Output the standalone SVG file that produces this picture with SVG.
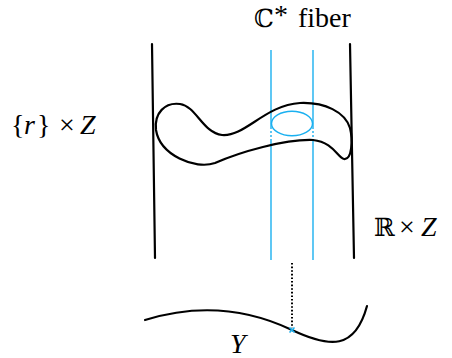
<svg xmlns="http://www.w3.org/2000/svg" width="452" height="358" viewBox="0 0 452 358">
<style>
.blk{fill:none;stroke:#000;stroke-width:2.2;stroke-linecap:round;stroke-linejoin:round}
.cy{fill:none;stroke:#1ab0f0;stroke-width:1.4}
.cyd{fill:none;stroke:#1ab0f0;stroke-width:1.4;stroke-dasharray:2 2}
.t{font-family:"Liberation Serif","DejaVu Serif",serif;font-size:28px;fill:#000}
.ds{font-family:"DejaVu Serif","DejaVu Sans",serif;font-size:25px;fill:#000}
.it{font-style:italic}
</style>
<rect width="452" height="358" fill="#fff"/>
<g id="cylinder">
<line class="blk" x1="152" y1="44" x2="155" y2="258"/>
<line class="blk" x1="350" y1="44" x2="354" y2="258"/>
</g>
<g id="fiber">
<line class="cy" x1="271" y1="50" x2="271" y2="127"/>
<line class="cyd" x1="271" y1="127" x2="271" y2="141"/>
<line class="cy" x1="271" y1="141" x2="271" y2="260"/>
<line class="cy" x1="313" y1="50" x2="313" y2="127"/>
<line class="cyd" x1="313" y1="127" x2="313" y2="141"/>
<line class="cy" x1="313" y1="141" x2="313" y2="260"/>
<ellipse class="cy" cx="292" cy="123.5" rx="20.5" ry="12.3" stroke-width="1.6"/>
</g>
<g id="slice">
<path class="blk" d="M 156,130 C 154,113 165,102 180,104 C 196,106 203,133 222,135 C 245,137 265,105 300,103 C 325,102 345,112 350,128 C 353,140 352,160 344,159 C 338,158 333,142 313,140 C 285,139 240,152 215,163 C 195,170 160,155 156,130 Z"/>
</g>
<g id="base">
<path class="blk" d="M 145,320 C 200,303 250,310 292,330 C 330,348 355,350 367,306"/>
</g>
<g id="connectors">
<line x1="292" y1="263" x2="292" y2="328" stroke="#000" stroke-width="2" stroke-dasharray="1.6 2"/>
<path d="M 289.5,327.5 L 294.5,332.5 M 294.5,327.5 L 289.5,332.5" stroke="#1ab0f0" stroke-width="1.6"/>
</g>
<g id="labels">
<text class="ds" x="254" y="27">ℂ</text>
<text class="t" x="274" y="24" font-size="18">*</text>
<text class="t" x="298" y="27">fiber</text>
<text class="t" x="11" y="134">{</text>
<text class="t it" x="24" y="134">r</text>
<text class="t" x="37" y="134">}</text>
<text class="t" x="59" y="134" font-size="30">×</text>
<text class="t it" x="80" y="134" font-size="29">Z</text>
<text class="ds" x="374" y="236">ℝ</text>
<text class="t" x="399" y="236" font-size="30">×</text>
<text class="t it" x="421" y="236" font-size="29">Z</text>
<text class="t it" x="230" y="353" font-size="29">Y</text>
</g>
</svg>
